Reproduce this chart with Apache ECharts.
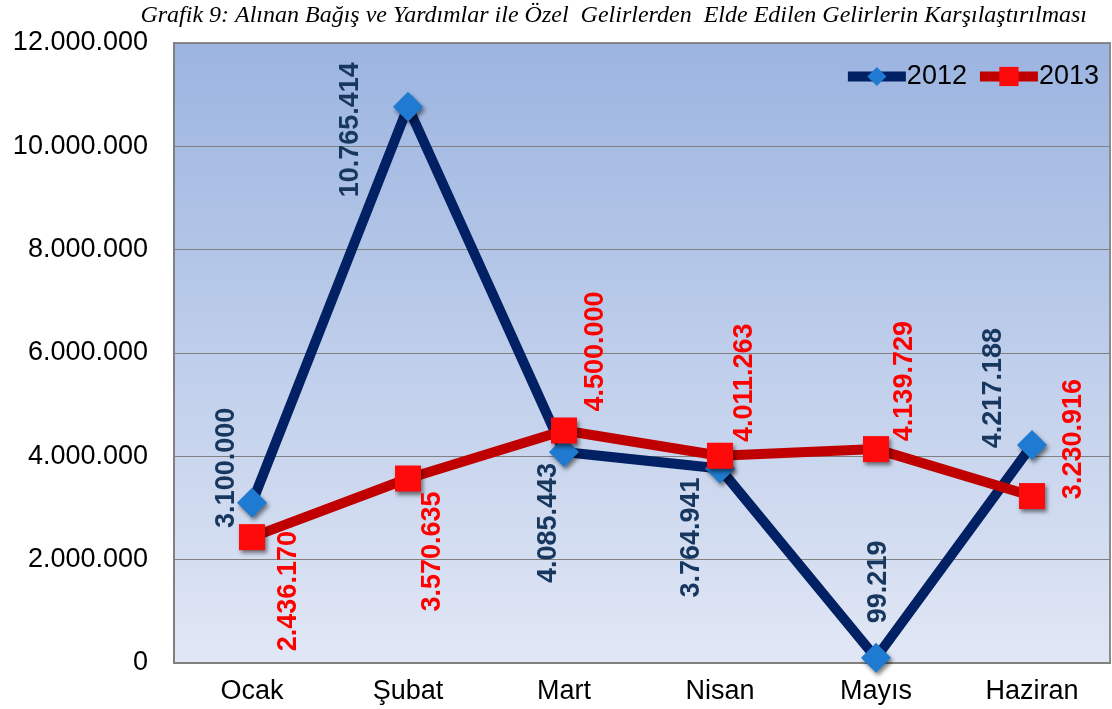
<!DOCTYPE html>
<html lang="tr">
<head>
    <meta charset="UTF-8">
    <title>Grafik 9</title>
    <script src="https://cdn.jsdelivr.net/npm/echarts@6/dist/echarts.min.js"></script>
    <style>
        html, body { margin: 0; padding: 0; background: #fff; }
        #main { width: 1112px; height: 709px; }
    </style>
</head>
<body>
    <div id="main"></div>
    <script>
        // veriler
        var aylar = ['Ocak', 'Şubat', 'Mart', 'Nisan', 'Mayıs', 'Haziran'];
        var veri2012 = [3100000, 10765414, 4085443, 3764941, 99219, 4217188];
        var veri2013 = [2436170, 3570635, 4500000, 4011263, 4139729, 3230916];

        // etiket kaydırmaları, ekranda [x, y] piksel
        var kaydir2012 = [[-25, -35], [-57, 23], [-15, 71], [-28, 69], [3, -76], [-38, -57]];
        var kaydir2013 = [[37, 54], [25, 73], [32, -79], [25, -73], [29, -68], [42, -57]];

        var yazi = 'Liberation Sans, Arial, sans-serif';

        function noktali(v) {
            return String(v).replace(/\B(?=(\d{3})+(?!\d))/g, '.');
        }

        function etiketli(veri, kaydir, renk) {
            return veri.map(function (v, i) {
                var k = kaydir[i];
                return {
                    value: v,
                    label: {
                        show: true,
                        position: 'inside',
                        rotate: 90,
                        // offset döndürülmüş çerçevede uygulanıyor
                        offset: [-k[1], k[0]],
                        color: renk,
                        fontSize: 27,
                        fontWeight: 'bold',
                        fontFamily: yazi,
                        formatter: function (p) { return noktali(p.value); }
                    }
                };
            });
        }

        var myChart = echarts.init(document.getElementById('main'));

        myChart.setOption({
            animation: false,
            title: {
                text: 'Grafik 9: Alınan Bağış ve Yardımlar ile Özel  Gelirlerden  Elde Edilen Gelirlerin Karşılaştırılması',
                right: 20,
                top: -1,
                textStyle: {
                    fontFamily: 'Liberation Serif, Times New Roman, serif',
                    fontStyle: 'italic',
                    fontWeight: 'normal',
                    fontSize: 24,
                    color: '#000'
                }
            },
            legend: {
                right: 8,
                top: 58,
                itemWidth: 58,
                itemHeight: 24,
                itemGap: 8,
                lineStyle: { width: 10 },
                textStyle: {
                    fontSize: 27,
                    color: '#000',
                    fontFamily: yazi,
                    padding: [0, 0, 0, -4]
                },
                data: ['2012', '2013']
            },
            grid: {
                left: 174,
                right: 2,
                top: 43,
                bottom: 46,
                show: true,
                borderColor: '#8c8c8c',
                borderWidth: 2,
                backgroundColor: new echarts.graphic.LinearGradient(0, 0, 0, 1, [
                    { offset: 0, color: '#9bb4e0' },
                    { offset: 1, color: '#e1e7f5' }
                ])
            },
            xAxis: {
                type: 'category',
                data: aylar,
                boundaryGap: true,
                axisLine: { show: true, lineStyle: { color: '#808080', width: 2 } },
                axisTick: { show: false },
                axisLabel: {
                    fontSize: 27,
                    color: '#000',
                    margin: 15,
                    fontFamily: yazi
                }
            },
            yAxis: {
                type: 'value',
                min: 0,
                max: 12000000,
                interval: 2000000,
                axisLine: { show: true, lineStyle: { color: '#808080', width: 2 } },
                axisTick: { show: false },
                splitLine: { show: true, lineStyle: { color: '#808080', width: 1 } },
                axisLabel: {
                    fontSize: 27,
                    color: '#000',
                    margin: 26,
                    fontFamily: yazi,
                    formatter: function (v) { return noktali(v); }
                }
            },
            series: [{
                name: '2012',
                type: 'line',
                data: etiketli(veri2012, kaydir2012, '#17375e'),
                symbol: 'diamond',
                symbolSize: 30,
                lineStyle: { color: '#022064', width: 10 },
                itemStyle: {
                    color: '#1f7bd1',
                    shadowBlur: 4,
                    shadowColor: 'rgba(0,0,0,0.5)',
                    shadowOffsetX: 2,
                    shadowOffsetY: 3
                },
                z: 2
            }, {
                name: '2013',
                type: 'line',
                data: etiketli(veri2013, kaydir2013, '#ff0000'),
                symbol: 'rect',
                symbolSize: 26,
                lineStyle: { color: '#c00000', width: 10 },
                itemStyle: {
                    color: '#ff0a0a',
                    shadowBlur: 4,
                    shadowColor: 'rgba(0,0,0,0.5)',
                    shadowOffsetX: 2,
                    shadowOffsetY: 3
                },
                z: 3
            }]
        });
    </script>
</body>
</html>
